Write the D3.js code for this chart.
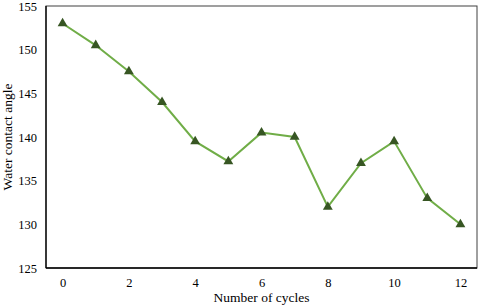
<!DOCTYPE html>
<html><head><meta charset="utf-8">
<script src="https://cdn.jsdelivr.net/npm/d3@7"></script>
<style>body{margin:0;background:#fff}svg{display:block}</style>
</head><body><svg id="c" width="480" height="307"></svg>
<script>
const cycles = [0,1,2,3,4,5,6,7,8,9,10,11,12];
const angles = [153,150.5,147.5,144,139.5,137.2,140.5,140,132,137,139.5,133,130];
const xTicks = [0,2,4,6,8,10,12];
const yTicks = [125,130,135,140,145,150,155];

const svg = d3.select("#c");
const m = {l:46, t:6, r:477, b:268};
const x = d3.scaleLinear().domain([-0.5,12.5]).range([m.l,m.r]);
const y = d3.scaleLinear().domain([125,155]).range([m.b,m.t]);
const font = "'Liberation Serif','Times New Roman',serif";

svg.append("rect").attr("x",m.l).attr("y",m.t).attr("width",m.r-m.l).attr("height",m.b-m.t)
  .attr("fill","none").attr("stroke","#404040").attr("stroke-width",1);
svg.append("line").attr("x1",m.l).attr("x2",m.l).attr("y1",m.t).attr("y2",m.b).attr("stroke","#000").attr("stroke-width",1.3);
svg.append("line").attr("x1",m.l).attr("x2",m.r).attr("y1",m.b).attr("y2",m.b).attr("stroke","#000").attr("stroke-width",1.3);

const yAxis = svg.append("g").attr("transform",`translate(${m.l},0)`)
  .call(d3.axisLeft(y).tickValues(yTicks).tickSize(0).tickPadding(9));
const xAxis = svg.append("g").attr("transform",`translate(0,${m.b})`)
  .call(d3.axisBottom(x).tickValues(xTicks).tickSize(0).tickPadding(10));
[yAxis,xAxis].forEach(a=>{a.select(".domain").remove();a.selectAll("text").attr("font-family",font).attr("font-size",12.5).attr("fill","#000");});

svg.append("path").datum(cycles.map((c,i)=>[c,angles[i]]))
  .attr("d",d3.line().x(d=>x(d[0])).y(d=>y(d[1])))
  .attr("fill","none").attr("stroke","#70AD47").attr("stroke-width",2);

svg.selectAll(".m").data(cycles).enter().append("path")
  .attr("transform",(c,i)=>`translate(${x(c)},${y(angles[i])})`)
  .attr("d",d3.symbol().type(d3.symbolTriangle).size(42))
  .attr("fill","#375623");

svg.append("text").attr("x",(m.l+m.r)/2).attr("y",302).attr("text-anchor","middle")
  .attr("font-family",font).attr("font-size",13.5).text("Number of cycles");
svg.append("text").attr("transform",`translate(12,${(m.t+m.b)/2}) rotate(-90)`).attr("text-anchor","middle")
  .attr("font-family",font).attr("font-size",13.5).text("Water contact angle");
</script></body></html>
